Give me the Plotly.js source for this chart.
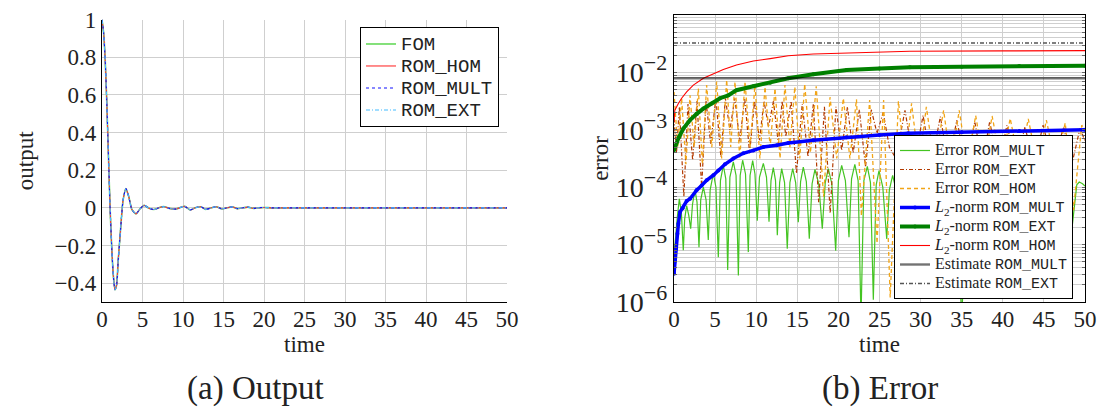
<!DOCTYPE html>
<html><head><meta charset="utf-8">
<script src="https://cdn.plot.ly/plotly-3.0.1.min.js"></script>
<style>html,body{margin:0;padding:0;background:#fff;} #chart{width:1104px;height:407px;}</style>
</head><body><div id="chart"></div>
<script>
// ---------- (a) Output ----------
const outTime = [0,0.2,0.4,0.6,0.8,1.0,1.2,1.4,1.6,1.8,2.0,2.3,2.6,2.95,3.3,3.7,4.2,4.7,5.2,5.8,6.4,7.0,7.6,8.3,9.0,9.6,10.2,10.9,11.5,12.2,12.8,13.5,14.1,14.8,15.4,16.1,16.7,17.4,18.0,18.7,19.3,20,21,25,30,35,40,45,50];
const outValues = [1.0,0.93,0.78,0.55,0.27,0.0,-0.21,-0.36,-0.435,-0.41,-0.28,-0.11,0.04,0.103,0.06,-0.01,-0.032,-0.005,0.014,-0.002,-0.009,0.0,0.007,-0.003,-0.007,0.0,0.008,-0.011,0.0,0.006,-0.008,0.0,0.006,-0.006,0.0,0.005,-0.004,0.0,0.004,-0.003,0.0,0.002,0,0,0,0,0,0,0];
const outSeriesNames = ['FOM','ROM_HOM','ROM_MULT','ROM_EXT'];

// ---------- (b) Error ----------
const errMultT = [0,0.12,0.4,0.65,0.9,1.13,1.3,1.54,1.8,2.03,2.25,2.55,2.8,3.04,3.25,3.57,3.9,4.17,4.4,4.79,5.1,5.39,5.65,6.0,6.3,6.53,6.8,7.22,7.55,7.83,8.05,8.35,8.7,9.04,9.25,9.57,9.85,10.13,10.4,10.87,11.25,11.56,11.8,12.08,12.35,12.57,12.85,13.1,13.45,13.78,14.1,14.44,14.8,15.12,15.4,15.73,16.1,16.46,16.8,17.15,17.6,18.04,18.4,18.77,19.2,19.67,20.0,20.4,20.85,21.29,21.6,22.0,22.4,22.75,23.1,23.52,23.9,24.25,24.6,24.94,25.4,25.88,26.2,26.6,27.1,27.58,27.9,28.2,28.9,29.6,30.3,31.0,31.7,32.4,33.1,33.8,34.4,35.0,35.6,36.2,36.9,37.6,38.3,39.0,39.7,40.4,41.1,41.8,42.5,43.2,43.9,44.6,45.3,46.0,46.7,47.4,48.2,48.6,49.0,49.3,49.7,50];
const errMultV = [8e-6,1.0e-5,3.0e-5,6.3e-5,3.5e-5,8e-6,2.8e-5,4.8e-5,3.2e-5,1.9e-5,5.0e-5,9.0e-5,5.5e-5,9e-6,6.0e-5,1.0e-4,6.0e-5,1.2e-5,9.0e-5,1.74e-4,1.0e-4,6e-6,1.3e-4,2.4e-4,1.4e-4,3.6e-6,1.5e-4,2.75e-4,1.6e-4,2.9e-6,1.6e-4,2.95e-4,1.7e-4,7.4e-6,1.6e-4,2.9e-4,1.7e-4,2.6e-5,1.5e-4,2.6e-4,1.5e-4,2.5e-5,1.3e-4,2.2e-4,1.3e-4,1.45e-5,1.2e-4,2.1e-4,1.2e-4,8.5e-6,1.2e-4,2.1e-4,1.2e-4,2.45e-5,1.25e-4,2.24e-4,1.25e-4,1.26e-5,1.15e-4,2.04e-4,1.15e-4,1.9e-5,1.2e-4,2.1e-4,1.15e-4,7.8e-6,1.3e-4,2.4e-4,1.3e-4,1.35e-5,1.4e-4,2.5e-4,1.3e-4,5e-7,1.3e-4,2.3e-4,1.2e-4,1.1e-6,1.1e-4,1.95e-4,1.0e-4,1.26e-5,9e-5,1.6e-4,8e-5,1.05e-5,8e-5,1.3e-4,2e-5,1.2e-4,1.5e-5,1.2e-4,2e-5,1.2e-4,1.5e-5,1.2e-4,6e-5,5e-7,6e-5,1.2e-4,1.5e-5,1.2e-4,2e-5,1.2e-4,1.5e-5,1.2e-4,2e-5,1.2e-4,1.5e-5,1.2e-4,2e-5,1.2e-4,1.5e-5,1.2e-4,2e-5,1.2e-4,1e-5,3e-5,1.1e-4,1.23e-4,1.15e-4,1.05e-4];

const errExtT = [0,0.3,0.65,1.2,1.7,2.27,2.8,3.36,3.9,4.46,5.1,5.7,6.25,6.8,7.4,8.0,8.6,9.2,9.8,10.4,10.95,11.5,12.1,12.7,13.15,13.6,14.25,14.9,15.6,16.3,16.95,17.6,18.3,19.0,19.7,20.4,21.1,21.8,22.55,23.3,24.0,24.7,25.45,26.2,27.0,28.1,29.2,30.3,31.3,32.4,33.4,34.4,35.5,36.6,37.5,38.4,39.5,40.5,41.6,42.7,43.8,44.9,46.1,47.4,48.4,49.4,50];
const errExtV = [1.58e-3,3.98e-4,2.51e-3,6.8e-5,2.82e-3,2.95e-4,3.16e-3,1.0e-4,3.16e-3,5.75e-4,3.55e-3,3.39e-4,3.55e-3,1.0e-3,3.55e-3,6.3e-4,3.55e-3,3.9e-4,3.16e-3,6.6e-4,3.16e-3,1.12e-3,3.16e-3,5.75e-4,3.16e-3,7.6e-4,3.16e-3,1.74e-4,2.82e-3,3.39e-4,2.82e-3,5.5e-5,2.51e-3,3.5e-5,2.51e-3,4.37e-4,2.51e-3,3.98e-4,2.24e-3,2.24e-4,2.24e-3,8.7e-4,2.0e-3,5.0e-4,3.16e-4,2.19e-3,2.51e-4,1.78e-3,2.51e-4,1.7e-3,2.51e-4,1.48e-3,2.51e-4,1.38e-3,2.51e-4,1.38e-3,2.51e-4,1.2e-3,2.51e-4,1.12e-3,2.51e-4,1.2e-3,2.51e-4,1.12e-3,2.51e-4,1.07e-3,6.3e-4];

const errHomT = [0,0.45,0.93,1.45,1.95,2.45,2.96,3.45,3.97,4.6,5.19,5.8,6.41,6.9,7.42,8.0,8.64,9.25,9.85,10.45,11.07,11.7,12.29,12.9,13.5,14.1,14.7,15.3,15.9,16.6,17.3,18.2,18.98,19.8,20.6,21.4,22.2,22.8,23.8,24.7,25.5,26.3,27.3,28.1,28.9,29.8,30.7,31.7,32.8,33.7,34.7,35.7,36.7,37.7,38.7,39.8,40.9,42.0,43.1,44.2,45.3,46.4,47.6,48.6,49.6,50];
const errHomV = [4.57e-3,5.0e-4,3.55e-3,2.51e-4,3.98e-3,5.0e-4,5.25e-3,2.51e-4,6.03e-3,5.0e-4,6.9e-3,3.16e-4,7.4e-3,5.0e-4,6.9e-3,3.16e-4,6.9e-3,5.0e-4,6.03e-3,3.16e-4,5.6e-3,5.0e-4,5.25e-3,3.16e-4,6.03e-3,5.0e-4,5.6e-3,3.16e-4,6.3e-3,3.98e-4,5.75e-3,6.8e-5,3.7e-3,3.16e-4,3.55e-3,3.16e-4,3.4e-3,3.16e-5,3.3e-3,1.05e-5,3.3e-3,1.2e-6,3.16e-3,2.51e-4,2.88e-3,2.51e-4,2.51e-3,2.51e-4,2.19e-3,2.51e-4,2.19e-3,2.51e-4,1.78e-3,2.51e-4,1.74e-3,2.51e-4,1.58e-3,2.51e-4,1.55e-3,2.51e-4,1.48e-3,2.51e-4,1.32e-3,3.98e-5,1.2e-3,1.0e-3];

const l2MultT = [0,0.12,0.24,0.41,0.53,0.73,1.05,1.54,1.95,2.76,3.36,3.97,4.79,5.39,6.2,7.22,8.43,9.65,10.87,12.5,13.9,16.95,21,25,28.5,35,42,50];
const l2MultV = [3.1e-6,5.2e-6,8.5e-6,1.55e-5,2.3e-5,3.7e-5,4.3e-5,5.75e-5,6.3e-5,8.9e-5,1.07e-4,1.32e-4,1.62e-4,1.95e-4,2.51e-4,3.16e-4,3.9e-4,4.37e-4,5.0e-4,5.4e-4,5.9e-4,6.6e-4,7.4e-4,8.1e-4,8.7e-4,9.1e-4,9.5e-4,1.0e-3];

const l2ExtT = [0,0.53,1.14,1.95,2.76,3.57,4.58,5.6,6.6,7.6,9.65,11.7,13.9,16.95,21,25,28.7,35,42,50];
const l2ExtV = [4.4e-4,7.1e-4,1.05e-3,1.48e-3,1.9e-3,2.34e-3,2.88e-3,3.55e-3,3.98e-3,4.9e-3,5.75e-3,6.6e-3,7.9e-3,9.3e-3,1.1e-2,1.17e-2,1.23e-2,1.26e-2,1.29e-2,1.3e-2];

const l2HomT = [0,0.1,0.53,0.93,1.54,2.35,3.57,4.79,6.0,7.6,9.65,11.7,13.9,16.95,21,28.7,40,50];
const l2HomV = [1.35e-3,2.19e-3,2.88e-3,3.55e-3,4.57e-3,6.0e-3,7.9e-3,9.5e-3,1.12e-2,1.35e-2,1.58e-2,1.74e-2,1.95e-2,2.09e-2,2.19e-2,2.34e-2,2.37e-2,2.4e-2];

const estT = [0,50];
const estMultV = [7.9e-3,7.9e-3];
const estExtV = [3.25e-2,3.25e-2];

const errTickMajor = [1e-6,1e-5,1e-4,1e-3,1e-2,1e-1];
const errTickExp = ['−6','−5','−4','−3','−2','−1'];
const xTickVals = [0,5,10,15,20,25,30,35,40,45,50];

// gridline positions for the log axis (1..9 per decade), labels only on decades
const logTickVals = [], logTickText = [];
errTickMajor.forEach((d, i) => {
  const mMax = (i === errTickMajor.length - 1) ? 1 : 9;
  for (let m = 1; m <= mMax; m++) {
    logTickVals.push(m * d);
    logTickText.push(m === 1 ? '10<sup><span style="font-size:22px">' + errTickExp[i] + '</span></sup>' : '');
  }
});

const MONO = 'Liberation Mono';
const SERIF = 'Liberation Serif';
// legend entry text: real text size set per span, the legend font size only sets row spacing
const leftName = s => '<span style="font-size:19px">' + s + '</span>';
const rightName = (lead, rom) => '<span style="font-size:16px">' + lead +
  '<span style="font-family:' + MONO + ';font-size:15px">' + rom + '</span></span>';
const L2 = '<i>L</i><sub>2</sub>-norm ';

const traces = [
  // left
  {x: outTime, y: outValues, name: leftName(outSeriesNames[0]), xaxis: 'x', yaxis: 'y', legend: 'legend', mode: 'lines',
   line: {color: '#66d95a', width: 1.6, shape: 'spline', smoothing: 0.6}},
  {x: outTime, y: outValues, name: leftName(outSeriesNames[1]), xaxis: 'x', yaxis: 'y', legend: 'legend', mode: 'lines',
   line: {color: '#ff3030', width: 1.1, shape: 'spline', smoothing: 0.6}},
  {x: outTime, y: outValues, name: leftName(outSeriesNames[2]), xaxis: 'x', yaxis: 'y', legend: 'legend', mode: 'lines',
   line: {color: '#1010ff', width: 1.1, dash: '3px,3px', shape: 'spline', smoothing: 0.6}},
  {x: outTime, y: outValues, name: leftName(outSeriesNames[3]), xaxis: 'x', yaxis: 'y', legend: 'legend', mode: 'lines',
   line: {color: '#44bbff', width: 1.1, dash: '4px,2px,1px,2px', shape: 'spline', smoothing: 0.6}},
  // right
  {x: errMultT, y: errMultV, name: rightName('Error ', 'ROM_MULT'), xaxis: 'x2', yaxis: 'y2', legend: 'legend2', mode: 'lines',
   line: {color: '#44c422', width: 1.2}},
  {x: errExtT, y: errExtV, name: rightName('Error ', 'ROM_EXT'), xaxis: 'x2', yaxis: 'y2', legend: 'legend2', mode: 'lines',
   line: {color: '#b33a00', width: 1.2, dash: '4px,2px,1px,2px'}},
  {x: errHomT, y: errHomV, name: rightName('Error ', 'ROM_HOM'), xaxis: 'x2', yaxis: 'y2', legend: 'legend2', mode: 'lines',
   line: {color: '#f2a516', width: 1.3, dash: '4px,3px'}},
  {x: l2MultT, y: l2MultV, name: rightName(L2, 'ROM_MULT'), xaxis: 'x2', yaxis: 'y2', legend: 'legend2', mode: 'lines+markers',
   line: {color: '#0000ff', width: 3.5}, marker: {color: '#0000ff', size: 4}},
  {x: l2ExtT, y: l2ExtV, name: rightName(L2, 'ROM_EXT'), xaxis: 'x2', yaxis: 'y2', legend: 'legend2', mode: 'lines+markers',
   line: {color: '#008000', width: 4}, marker: {color: '#008000', size: 4}},
  {x: l2HomT, y: l2HomV, name: rightName(L2, 'ROM_HOM'), xaxis: 'x2', yaxis: 'y2', legend: 'legend2', mode: 'lines',
   line: {color: '#ff0000', width: 1.1}},
  {x: estT, y: estMultV, name: rightName('Estimate ', 'ROM_MULT'), xaxis: 'x2', yaxis: 'y2', legend: 'legend2', mode: 'lines',
   line: {color: '#000000', width: 2.4}, opacity: 0.55},
  {x: estT, y: estExtV, name: rightName('Estimate ', 'ROM_EXT'), xaxis: 'x2', yaxis: 'y2', legend: 'legend2', mode: 'lines',
   line: {color: '#555555', width: 1.6, dash: '4px,2px,1px,2px'}}
];

const W = 1104, H = 407;
const grid = '#cfcfcf';

const layout = {
  width: W, height: H,
  margin: {l: 0, r: 0, t: 0, b: 0},
  paper_bgcolor: '#fff', plot_bgcolor: '#fff',
  font: {family: SERIF, size: 22, color: '#222'},
  showlegend: true,
  xaxis: {
    domain: [102 / W, 507 / W], anchor: 'y', range: [0, 50], tickvals: xTickVals,
    showgrid: true, gridcolor: grid, gridwidth: 1, zeroline: false,
    showline: true, linecolor: '#000', linewidth: 1.2, ticks: '', ticklabelstandoff: -4,
    tickfont: {family: SERIF, size: 23}, automargin: false,
    title: {text: 'time', font: {family: SERIF, size: 23}, standoff: 0}
  },
  yaxis: {
    domain: [(H - 302) / H, (H - 19.5) / H], anchor: 'x', range: [-0.5, 1], dtick: 0.2, tick0: 0,
    showgrid: true, gridcolor: grid, gridwidth: 1, zeroline: false,
    showline: true, linecolor: '#000', linewidth: 1.2, ticks: '',
    tickfont: {family: SERIF, size: 23}, automargin: false,
    title: {text: 'output', font: {family: SERIF, size: 23}, standoff: 14}
  },
  xaxis2: {
    domain: [674 / W, 1085 / W], anchor: 'y2', range: [0, 50], tickvals: xTickVals,
    showgrid: true, gridcolor: grid, gridwidth: 1, zeroline: false,
    showline: true, mirror: true, linecolor: '#000', linewidth: 1.2, ticks: '', ticklabelstandoff: -4,
    tickfont: {family: SERIF, size: 23}, automargin: false,
    title: {text: 'time', font: {family: SERIF, size: 23}, standoff: 0}
  },
  yaxis2: {
    domain: [(H - 302) / H, (H - 15) / H], anchor: 'x2', type: 'log', range: [-6, -1],
    tickmode: 'array', tickvals: logTickVals, ticktext: logTickText,
    showgrid: true, gridcolor: grid, gridwidth: 1, zeroline: false,
    showline: true, mirror: 'ticks', linecolor: '#000', linewidth: 1.2,
    ticks: 'inside', ticklen: 3, tickcolor: '#666',
    tickfont: {family: SERIF, size: 28}, automargin: false,
    title: {text: 'error', font: {family: SERIF, size: 23}, standoff: 0}
  },
  legend: {
    x: 499 / W, xanchor: 'right', y: (H - 27) / H, yanchor: 'top',
    bgcolor: '#fff', bordercolor: '#000', borderwidth: 1,
    font: {family: MONO, size: 14.6, color: '#222'}, itemwidth: 30, tracegroupgap: 0
  },
  legend2: {
    x: 1073 / W, xanchor: 'right', y: (H - 135) / H, yanchor: 'top',
    bgcolor: '#fff', bordercolor: '#000', borderwidth: 1,
    font: {family: SERIF, size: 12.2, color: '#222'}, itemwidth: 30, tracegroupgap: 0
  },
  annotations: [
    {text: '(a) Output', xref: 'paper', yref: 'paper', x: 255 / W, y: (H - 388) / H,
     xanchor: 'center', yanchor: 'middle', showarrow: false, font: {family: SERIF, size: 33, color: '#222'}},
    {text: '(b) Error', xref: 'paper', yref: 'paper', x: 880 / W, y: (H - 388) / H,
     xanchor: 'center', yanchor: 'middle', showarrow: false, font: {family: SERIF, size: 33, color: '#222'}}
  ]
};

Plotly.newPlot('chart', traces, layout, {displayModeBar: false, staticPlot: true});
</script></body></html>
